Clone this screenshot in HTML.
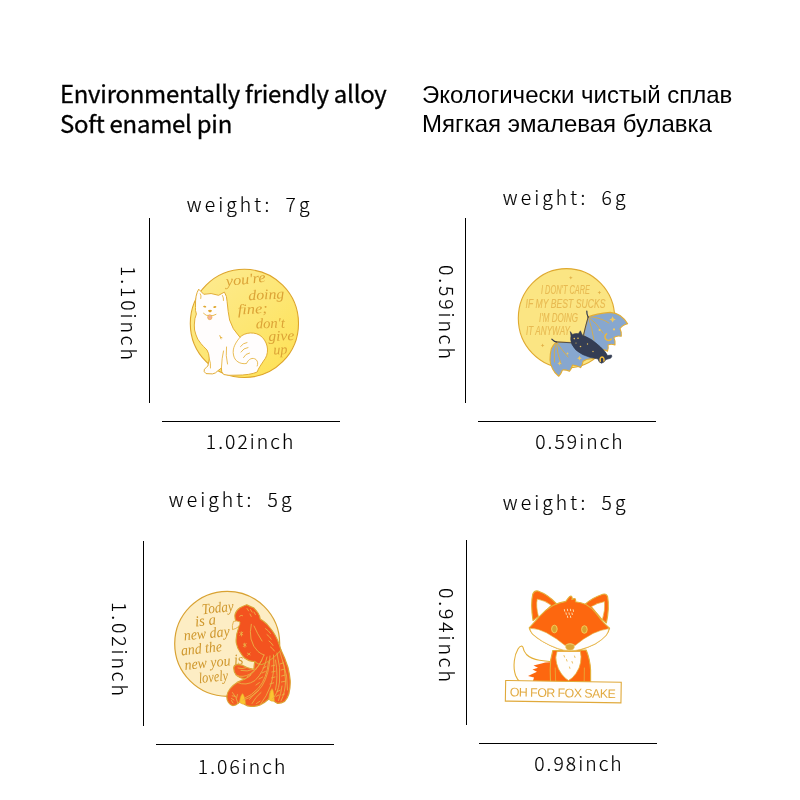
<!DOCTYPE html>
<html lang="en">
<head>
<meta charset="utf-8">
<title>Soft enamel pin size chart</title>
<style>
html,body{margin:0;padding:0;background:#fff;}
body{width:800px;height:800px;position:relative;overflow:hidden;}
.hd{position:absolute;margin:0;white-space:nowrap;color:#000;}
.en{font-family:"Noto Sans CJK SC","Liberation Sans",sans-serif;font-size:23.9px;line-height:29.4px;left:59.9px;top:78.3px;font-weight:400;letter-spacing:-0.23px;-webkit-text-stroke:0.35px #0a0a0a;}
.ru{font-family:"Liberation Sans","DejaVu Sans",sans-serif;font-size:24px;line-height:29px;left:422px;top:80px;}
.lb{position:absolute;margin:0;white-space:pre;color:#000;font-family:"Noto Sans CJK SC","Liberation Sans",sans-serif;font-weight:300;font-size:19.3px;line-height:24px;-webkit-text-stroke:0.18px #000;letter-spacing:3.1px;}
.wt{margin-left:0.8px;margin-top:0.6px;word-spacing:-0.8px;}
.dm{letter-spacing:2.05px;font-size:19.3px;margin-left:-0.2px;margin-top:1.1px;}
.rot{transform-origin:0 0;transform:rotate(90deg);letter-spacing:2.95px;font-size:19.3px;margin:2.3px 0 0 -1.3px;}
.ln{position:absolute;background:#000;}
svg.pins{position:absolute;left:0;top:0;}
</style>
</head>
<body>
<p class="hd en">Environmentally friendly alloy<br>Soft enamel pin</p>
<p class="hd ru">Экологически чистый сплав<br>Мягкая эмалевая булавка</p>

<!-- top-left -->
<p class="lb wt" style="left:186px;top:191px;">weight:  7g</p>
<p class="lb dm rot" style="left:142.6px;top:264px;">1.10inch</p>
<div class="ln" style="left:149px;top:218px;width:1px;height:185px;"></div>
<div class="ln" style="left:162px;top:421px;width:178px;height:1px;"></div>
<p class="lb dm" style="left:206px;top:428px;">1.02inch</p>

<!-- top-right -->
<p class="lb wt" style="left:502px;top:184px;">weight:  6g</p>
<p class="lb dm rot" style="left:460px;top:263px;">0.59inch</p>
<div class="ln" style="left:465px;top:218px;width:1px;height:185px;"></div>
<div class="ln" style="left:478px;top:421px;width:178px;height:1px;"></div>
<p class="lb dm" style="left:535.4px;top:428px;">0.59inch</p>

<!-- bottom-left -->
<p class="lb wt" style="left:168px;top:486px;">weight:  5g</p>
<p class="lb dm rot" style="left:133px;top:600px;">1.02inch</p>
<div class="ln" style="left:143px;top:541px;width:1px;height:185px;"></div>
<div class="ln" style="left:156px;top:744px;width:178px;height:1px;"></div>
<p class="lb dm" style="left:198px;top:753px;">1.06inch</p>

<!-- bottom-right -->
<p class="lb wt" style="left:502px;top:489px;">weight:  5g</p>
<p class="lb dm rot" style="left:460px;top:586px;">0.94inch</p>
<div class="ln" style="left:466px;top:540px;width:1px;height:185px;"></div>
<div class="ln" style="left:479px;top:743px;width:178px;height:1px;"></div>
<p class="lb dm" style="left:534.4px;top:750px;">0.98inch</p>

<svg class="pins" width="800" height="800" viewBox="0 0 800 800">
<g id="pin-dog">
<defs><linearGradient id="gdog" x1="0.15" y1="0.1" x2="0.85" y2="0.9"><stop offset="0" stop-color="#fdea8c"/><stop offset="0.55" stop-color="#fde672"/><stop offset="1" stop-color="#fee25a"/></linearGradient></defs>
<circle cx="244.4" cy="323.4" r="54.1" fill="url(#gdog)" stroke="#dda42a" stroke-width="1.1"/>
<g font-family="'Liberation Serif','DejaVu Serif',serif" font-style="italic" font-size="14.5" fill="#dca336">
<text x="226.2" y="286" transform="rotate(-6 226.2 286)" textLength="40" lengthAdjust="spacingAndGlyphs">you're</text>
<text x="248.5" y="300.2" transform="rotate(-3 248.5 300.2)" textLength="36" lengthAdjust="spacingAndGlyphs">doing</text>
<text x="238" y="314.4" transform="rotate(-3 238 314.4)" textLength="30" lengthAdjust="spacingAndGlyphs">fine;</text>
<text x="256" y="328.6" transform="rotate(-2 256 328.6)" textLength="29" lengthAdjust="spacingAndGlyphs">don't</text>
<text x="268.4" y="341" transform="rotate(-2 268.4 341)" textLength="26" lengthAdjust="spacingAndGlyphs">give</text>
<text x="273.4" y="354.6" transform="rotate(-2 273.4 354.6)" textLength="14" lengthAdjust="spacingAndGlyphs">up</text>
</g>
<path d="M198.7,289.2 L203.8,294.3 Q211,292.3 218.6,295.3 L224.4,292.1 Q227,296 227.1,301.5 Q228,312 229.6,320 Q232,329 240,337.3 C244,332.5 256,330.5 262.5,337.5 C268.5,344 269.5,354 263.5,361 C261,365 258.5,368 257.2,372 Q250,375.2 236,375.2 Q228,375.8 223.7,374.5 Q221,372.5 221.4,368 L218.2,370.5 Q215.5,373.6 212.5,373.9 L206,373.6 Q203.3,371.8 204.3,369.3 Q206.8,367 207.9,366 L209.3,358.7 Q209,353 207,350 Q203,346 201,343.7 Q197,339 196,335 Q194,330 194.3,325 Q194.4,318 196.4,314 Q195,310 195.5,307.5 Q195.3,300 196.1,296.2 Q197,292 198.7,289.2 Z" fill="#fffdfd" stroke="#e2ad36" stroke-width="1" stroke-linejoin="round"/>
<g fill="none" stroke="#e6b644" stroke-width="0.9" stroke-linecap="round" stroke-linejoin="round">
<path d="M240,337.3 C236,342 232,348 233.5,355 C234.5,361 240,364.5 246.5,363.5 C248.5,359 252.5,357 256,359.5 C258,361.5 258,364 257.2,366"/>
<path d="M240.5,346.5 Q243,343 247,342.5 M241,352 Q243.5,348 248,347.5 M243.5,357.5 Q245.5,353.5 249.5,353"/>
<path d="M221.4,368 Q221.8,358 223.5,351 M226.5,347 Q225.5,356 227.5,364 M219.8,335.5 l1.2,3.4 m-0.6,-1.8 l1.6,0.6 M209.3,358.7 Q211,363 210.5,368"/>
<path d="M203.5,313.3 Q206,316.2 209.6,315.6 Q213,316.2 216,314.4"/>
<path d="M200.3,293.8 Q201.6,295.6 200.8,298.5 M222.5,295.5 Q223.8,298 223.5,300.5"/>
</g>
<g fill="#e0a830">
<ellipse cx="204.7" cy="306.6" rx="1.6" ry="0.9" transform="rotate(12 204.7 306.6)"/>
<ellipse cx="214.8" cy="307" rx="1.6" ry="0.9" transform="rotate(-8 214.8 307)"/>
<path d="M208,310.3 q2,-1 4,0 q-0.3,1.8 -2,2.2 q-1.7,-0.4 -2,-2.2z"/>
</g>
<ellipse cx="209.8" cy="317.2" rx="2.2" ry="2.5" fill="#f7b198" stroke="#e6b03c" stroke-width="0.6"/>
</g>
<g id="pin-bat">
<ellipse cx="566.5" cy="318.3" rx="48.2" ry="49.7" fill="#fbe583" stroke="#dfa92f" stroke-width="1.1"/>
<g font-family="'Liberation Sans','DejaVu Sans',sans-serif" font-style="italic" font-size="12.5" fill="#e8ba52" stroke="#e8ba52" stroke-width="0.15">
<text x="541" y="293.8" textLength="49" lengthAdjust="spacingAndGlyphs">I DON'T CARE</text>
<text x="525.5" y="308" textLength="80" lengthAdjust="spacingAndGlyphs">IF MY BEST SUCKS</text>
<text x="539" y="322" textLength="39" lengthAdjust="spacingAndGlyphs">I'M DOING</text>
<text x="526" y="335" textLength="44" lengthAdjust="spacingAndGlyphs">IT ANYWAY</text>
</g>
<g fill="#e3b249">
<path d="M570.8,276 l0.6,1.3 1.3,0.5 -1.3,0.5 -0.6,1.3 -0.6,-1.3 -1.3,-0.5 1.3,-0.5z"/>
<path d="M599.4,290.8 l0.6,1.3 1.3,0.5 -1.3,0.5 -0.6,1.3 -0.6,-1.3 -1.3,-0.5 1.3,-0.5z"/>
<path d="M542.6,343.6 l0.6,1.3 1.3,0.5 -1.3,0.5 -0.6,1.3 -0.6,-1.3 -1.3,-0.5 1.3,-0.5z"/>
</g>
<!-- right wing -->
<path d="M588.2,316.8 Q596,313.6 610,312.4 Q616,313 620,315.5 Q625,319 627.6,323.8 Q622.5,325 620,328.8 Q621.8,332 621.3,336.3 Q616.5,335.2 613.8,337.6 Q615.5,341 615,345 Q611,343.5 608,345 Q608.7,348.5 607.5,351.3 Q605,349.6 602.5,350 L599,352 L583.5,335 Q586.5,324 588.2,316.8 Z" fill="#87a7cf" stroke="#e3ad34" stroke-width="1.1" stroke-linejoin="round"/>
<!-- left wing -->
<path d="M556.3,341.9 L572,342.6 L597,355.5 Q595,358 592.5,358.8 Q586.5,358.6 583.1,361.3 Q582.6,365 580.6,367.6 Q576,365 572.5,365 Q571.5,369 569.4,371.3 Q565.5,369.5 562.5,370 Q561,374 558.7,376.3 Q554.5,373 552.5,368.8 Q550,364 550,360 Q550,354 551.3,348.7 Q553,345 556.3,341.9 Z" fill="#87a7cf" stroke="#e3ad34" stroke-width="1.1" stroke-linejoin="round"/>
<g fill="none" stroke="#e3ad34" stroke-width="0.8" stroke-linecap="round">
<path d="M588.2,316.8 Q600,317 609,323 M588.2,316.8 Q597,323 603,333 M588.2,316.8 Q592,328 594,340"/>
<path d="M556.3,341.9 Q562,350 568,357 M556.3,341.9 Q557,353 561,364 M556.3,341.9 Q553,352 554.5,362"/>
</g>
<path d="M606.6,333.8 A3.6,3.6 0 1,0 611.4,339 " fill="none" stroke="#efb83a" stroke-width="1.5" stroke-linecap="round"/>
<g fill="#efc862">
<path d="M612.6,316.2 l1,2.2 2.2,1 -2.2,1 -1,2.2 -1,-2.2 -2.2,-1 2.2,-1z"/>
<path d="M579.5,355.8 l0.8,1.6 1.6,0.8 -1.6,0.8 -0.8,1.6 -0.8,-1.6 -1.6,-0.8 1.6,-0.8z"/>
<path d="M559.5,361.3 l0.7,1.4 1.4,0.7 -1.4,0.7 -0.7,1.4 -0.7,-1.4 -1.4,-0.7 1.4,-0.7z"/>
<circle cx="599.6" cy="330" r="1.1"/><circle cx="614" cy="329.4" r="1.1"/><circle cx="567.5" cy="353.5" r="0.9"/>
</g>
<!-- claws -->
<path d="M588.2,317.2 Q586.6,314.5 586.8,311 M556.6,342 Q553.8,341.6 551.8,339.2" fill="none" stroke="#2f384e" stroke-width="1.2" stroke-linecap="round"/>
<path d="M588.2,316.8 Q585.5,326 583.6,334.8 M556.3,341.9 L571.6,342.8" fill="none" stroke="#3b4257" stroke-width="0.9" stroke-linecap="round"/>
<!-- body -->
<path d="M570.3,331.6 L572.4,334.4 Q575.5,333.2 578.4,333.7 L580.4,330.8 L582.2,334.9 Q592,338.5 600,346.5 Q606,352 607.5,355.5 L611.5,355 Q612.5,357 610.5,358.3 L606,359.5 Q604.5,362.5 601.5,363.2 Q598.5,362.5 598,359 Q590,358 582.5,354.5 Q574.5,350.5 572,344.5 Q570,339.5 571,336 Z" fill="#343d54" stroke="#2c3449" stroke-width="0.6" stroke-linejoin="round"/>
<path d="M600.3,361.5 q-0.8,-4.2 1.8,-4.4 q2.4,0.2 1.8,4" fill="none" stroke="#efb93a" stroke-width="1.5" stroke-linecap="round"/>
<g fill="#e9c25a"><circle cx="574.3" cy="338.6" r="0.8"/><circle cx="578" cy="338.2" r="0.8"/><circle cx="580.5" cy="346.5" r="0.8"/><circle cx="587.5" cy="344" r="0.7"/><circle cx="593" cy="351.5" r="0.7"/><circle cx="576" cy="343" r="0.6"/></g>
</g>
<g id="pin-phoenix">
<circle cx="227.2" cy="643.8" r="52.5" fill="#fdedc4" stroke="#d9a232" stroke-width="1.2"/>
<g font-family="'Liberation Serif','DejaVu Serif',serif" font-style="italic" font-size="15" fill="#cf972c">
<text x="202.6" y="614.2" transform="rotate(-6 202.6 614.2)" textLength="31.5" lengthAdjust="spacingAndGlyphs">Today</text>
<text x="195.5" y="626.4" transform="rotate(-6 195.5 626.4)" textLength="21" lengthAdjust="spacingAndGlyphs">is a</text>
<text x="184.3" y="640.6" transform="rotate(-6 184.3 640.6)" textLength="46" lengthAdjust="spacingAndGlyphs">new day</text>
<text x="181.5" y="655.4" transform="rotate(-6 181.5 655.4)" textLength="41" lengthAdjust="spacingAndGlyphs">and the</text>
<text x="185" y="670" transform="rotate(-6 185 670)" textLength="59" lengthAdjust="spacingAndGlyphs">new you is</text>
<text x="199.2" y="683.2" transform="rotate(-6 199.2 683.2)" textLength="29.5" lengthAdjust="spacingAndGlyphs">lovely</text>
</g>
<!-- tail silhouette -->
<path d="M254.75,661.4 Q254,666 253.9,669.25 Q250,668.5 246.9,667.5 Q242,664.5 237.25,664.4 Q234,665 233.75,667.5 Q233.5,672 236.4,675.4 Q240,678.5 245,678.9 Q241,680.5 237.25,682.4 Q233,685 230.25,688.5 Q227,692.5 226.75,696.4 Q226.8,700 228.5,702.5 Q230.5,705.5 232.9,705.6 Q236,705.5 238,703.4 Q240.5,701.5 241.6,699 Q242.5,702 244.25,704.25 Q247.5,706.5 251.25,706.4 Q256,706.5 260,705 Q265,702.5 268.75,699 L270.5,691 Q270.5,696 272.25,699 Q274.5,702.5 277.5,703.4 Q281.5,703.5 284.5,701.6 Q287.5,698.5 288.9,693.75 Q290.5,687 290.2,680.6 Q289.5,673.5 288,667.5 Q285,658 281,650 Q272,656 262,656 Z" fill="#f45c24" stroke="#dca334" stroke-width="1.2" stroke-linejoin="round"/>
<g fill="#fbc631" stroke="#e2a52c" stroke-width="0.5">
<path d="M239.6,702.6 Q239.8,696.5 242.4,693.6 Q244.8,695.5 245.6,703.8 Q242.5,705 239.6,702.6 Z"/>
<path d="M269.2,699.8 Q269.4,692.5 272,688.6 Q274,690.5 274.4,701 Q271.5,702 269.2,699.8 Z"/>
</g>
<!-- body + head -->
<path d="M246.75,604.75 Q243,606 240,607.75 Q236,610.5 235,614.5 Q234.5,618 236,621 L239.6,622.2 L238.4,628.4 Q235.5,636 236.25,643 Q237.5,649 240,652 Q242.5,656 244.5,658 Q250,662 254.75,661.4 Q258,665 262,664.5 Q272,660.5 281,650 Q279.5,645 277.5,640 Q275.5,635.5 273,631.75 Q270,627.5 267,624.25 Q263.5,621 260.25,619 Q260,616 258,613 Q256,610 253.5,607.75 Q250,606.5 246.75,604.75 Z" fill="#f3531f" stroke="#dca334" stroke-width="1.1" stroke-linejoin="round"/>
<!-- beak -->
<path d="M240,622 Q236.5,620.2 233.5,621.4 Q231.8,625.5 232.5,629.6 Q236,628.8 238.6,626.6 Q240.2,624.5 240,622 Z" fill="#fdecc8" stroke="#dda636" stroke-width="0.8" stroke-linejoin="round"/>
<g fill="none" stroke="#ebb045" stroke-width="0.9" stroke-linecap="round" stroke-linejoin="round">
<path d="M251.3,624.3 Q249.6,632 251,639 Q253,647 258,651.5 Q261,654 264,655"/>
<path d="M254,626 Q257.5,634 262,641"/>
<path d="M239.6,616.2 q1.4,-1.6 3,-0.6"/>
<path d="M247,608.5 l1.6,2.4 M250.5,609.5 l1.6,2.6 M254,612 l1.4,2.6 M250,614 l1.2,2.4"/>
<path d="M239.8,632.6 l3,2.2 m-3,0.6 l3,-3.2 m-1.5,-0.4 l0.2,4.2"/>
<path d="M243.3,644 l2.8,2 m-2.8,0.6 l2.8,-3 m-1.4,-0.4 l0.2,4"/>
<path d="M247.5,653.2 l2.6,1.6 m-2.6,0.6 l2.6,-2.6"/>
<path d="M265.5,628.6 Q268.5,630.5 270.5,633.5 M267,634.6 Q269.6,636.4 271.2,639.2 M269,641 Q271.6,642.8 273,645.4 M270.6,647 Q273,648.6 274.4,651"/>
<!-- tail feather lines -->
<path d="M264,655 Q259,668 250,674 Q243,678 236.4,675.4"/>
<path d="M267,657 Q264,672 255,680.5 Q246,686.5 237.25,682.4"/>
<path d="M270,656 Q269.5,674 262,686 Q254,697.5 243,700"/>
<path d="M273.5,655 Q275,672 270.5,686 Q267,696 260,705"/>
<path d="M277,653 Q281,668 279.5,682 Q278,694 272.25,699"/>
<path d="M280,652 Q285.5,666 285.5,680 Q285.5,692 281,701"/>
<path d="M253.9,669.25 Q247,672 241,670.5 M246,667.8 Q242,669.5 238,668"/>
<path d="M262,660 Q256,672 247,677 M268.5,662 Q267,678 258.5,688 Q251,696 245,698 M275.5,660 Q278.5,676 275.5,690 M283,662 Q288,676 287.5,690"/>
<path d="M245,678.9 Q248.5,677.5 251,675"/>
<path d="M238,703.4 Q236.5,697 232.5,692.5 M234,700 l-2.6,-1.6 M235.4,696.4 l-3.2,-0.6 M236.6,698 l0.8,-3.4 M233,703 l-1.6,-2.6"/>
<path d="M252,703.5 Q255.5,697 261,692.5 M249.5,699.5 Q253,694 258.5,690.5 M256.5,703.5 l3.6,-2.4"/>
<path d="M278.5,700.5 Q281,694 282,686 M276,696.5 l3,-1.6 M276.6,692 l3.4,-1.8 M284.5,694 l-2.4,1"/>
<path d="M263,668 l3,-1.4 M262,673 l3.4,-1.6 M259,679 l3.6,-2 M256,685 l3.4,-2.4 M271.5,666 l3.2,-0.8 M271.8,672 l3.4,-0.8 M271.4,678 l3.6,-1 M270,684 l3.6,-1.2 M280,664 l3.2,-1 M281.2,670 l3.4,-1 M281.6,676 l3.6,-1 M281.4,682 l3.8,-0.8"/>
</g>
</g>
<g id="pin-fox">
<!-- tail -->
<path d="M521.6,646 Q519.5,646.4 518,649 Q515,654 514.3,661 Q513.4,669 515.6,675.5 Q517.5,680.5 521,683 L551.5,683 L551.5,661.8 Q545,661 539.5,660.2 Q531,659 526.5,654.5 Q523.5,651 523,647.4 Q522.6,646 521.6,646 Z" fill="#fffefd" stroke="#e4b03a" stroke-width="1.1" stroke-linejoin="round"/>
<path d="M551.5,662.4 Q546,662 541.5,663.6 L533.5,665.6 L538,667.8 L532.5,669.6 L537,671.8 L528,676 L534,677.6 L532.5,682.5 L551.5,683 Z" fill="#fd670f"/>
<!-- body -->
<path d="M552.8,650.5 Q549.8,660 550.2,670 L550.5,682 L590.6,683 L590.6,670 Q590,659 586.2,650 Z" fill="#fd670f" stroke="#e4b03a" stroke-width="1.1" stroke-linejoin="round"/>
<path d="M557,651.5 Q554.8,657.5 556.6,663.5 Q557.8,669 561.5,674 Q565.5,679 568.5,680.5 Q572.5,678.5 576,673.5 Q579.8,668 580.6,662.5 Q581.6,656.5 580.4,651.5 Z" fill="#fffefd" stroke="#e4b03a" stroke-width="0.8" stroke-linejoin="round"/>
<g fill="none" stroke="#e4b03a" stroke-width="0.8" stroke-linecap="round">
<path d="M555.2,668 L555.6,681 M584.4,668 L584.2,681.5 M564,655.5 l0.6,1.6 M566.5,659.5 l0.5,1.6 M572,661.5 l0.5,1.6 M569.5,667 l0.4,1.4 M574.5,656 l0.5,1.5"/>
</g>
<!-- ears -->
<path d="M533,620.5 Q530.4,604 532.8,594 Q534.4,590.3 538,591 Q548,594.5 556.4,603.6 Z" fill="#fd670f" stroke="#e4b03a" stroke-width="1.1" stroke-linejoin="round"/>
<path d="M538.6,617.2 Q535.6,606 537.2,599 Q545,600.5 551.2,605.2 Z" fill="#fffefd" stroke="#e4b03a" stroke-width="0.7" stroke-linejoin="round"/>
<path d="M606.4,623 Q609.6,608 607.6,596.6 Q606.4,593.2 602.8,594.2 Q592.5,597.5 584.6,604.6 Z" fill="#fd670f" stroke="#e4b03a" stroke-width="1.1" stroke-linejoin="round"/>
<path d="M602.4,619.6 Q605.4,610 604.6,601.6 Q597,603 591.4,606.6 Z" fill="#fffefd" stroke="#e4b03a" stroke-width="0.7" stroke-linejoin="round"/>
<!-- head -->
<path d="M529.2,627.8 Q534.5,622 540,616 Q546,609.5 553,605.6 Q559.5,602.4 565.8,601.4 Q567.6,598.6 569.8,596.4 Q571.2,595.6 572,597 Q572.4,598.4 571.8,599.6 Q573.8,598.2 575.2,598.8 Q576.2,600 575.4,601.8 Q581,602.6 586,604.6 Q591.5,607.6 596,613.2 Q600,618.4 603.4,622.4 Q606.4,625.6 609.6,628.2 Q608.6,632 606.2,635.2 Q601.5,640.4 595,644 Q588,647.6 580,649.6 Q575,650.8 570,650.8 Q564,650.6 557.5,648.4 Q549.5,645.6 542.5,641.4 Q536.5,637.6 532.4,633.8 Q530,631 529.2,627.8 Z" fill="#fd670f" stroke="#e4b03a" stroke-width="1.1" stroke-linejoin="round"/>
<path d="M529.8,628.2 Q538.5,628.4 546.5,632.8 Q557,638.5 565.2,645.6 Q567,643.4 570,643.4 Q573,643.4 575,645.6 Q583,638.5 593,633.4 Q601,629.8 609,628.6 Q608.4,632 606.2,635.2 Q601.5,640.4 595,644 Q588,647.6 580,649.6 Q575,650.8 570,650.8 Q564,650.6 557.5,648.4 Q549.5,645.6 542.5,641.4 Q536.5,637.6 532.4,633.8 Q530.4,631.2 529.8,628.2 Z" fill="#fffefd" stroke="#e4b03a" stroke-width="0.6" stroke-linejoin="round"/>
<ellipse cx="554.4" cy="629" rx="2.8" ry="3.8" fill="#d9a12f" stroke="#f6d25e" stroke-width="0.9"/>
<ellipse cx="584.4" cy="629.5" rx="2.8" ry="3.8" fill="#d9a12f" stroke="#f6d25e" stroke-width="0.9"/>
<path d="M565.8,644.8 Q570,643 574.2,644.8 Q574.8,648 573,649.6 Q570,650.8 567,649.6 Q565.2,648 565.8,644.8 Z" fill="#dba636" stroke="#ecc25a" stroke-width="0.7"/>
<g fill="none" stroke="#fbdcae" stroke-width="1" stroke-linecap="round">
<path d="M564.4,609.6 l0.3,1.6 M567.4,609.2 l0.3,1.6 M570.4,609.2 l0.3,1.6 M573.2,609.8 l0.3,1.6 M566,612.8 l0.3,1.6 M569,612.8 l0.3,1.6 M572,613 l0.3,1.6 M567.4,616 l0.3,1.5 M570.4,616 l0.3,1.5"/>
</g>
<!-- banner -->
<g transform="rotate(0.9 563.3 691.7)">
<rect x="505.5" y="681.4" width="115.6" height="20.6" fill="#fffefc" stroke="#e0a93a" stroke-width="1.1"/>
<text x="509.8" y="697.2" font-family="'Liberation Sans','DejaVu Sans',sans-serif" font-size="12.4" fill="#e2aa40" textLength="106" lengthAdjust="spacing">OH FOR FOX SAKE</text>
</g>
</g>
</svg>
</body>
</html>
